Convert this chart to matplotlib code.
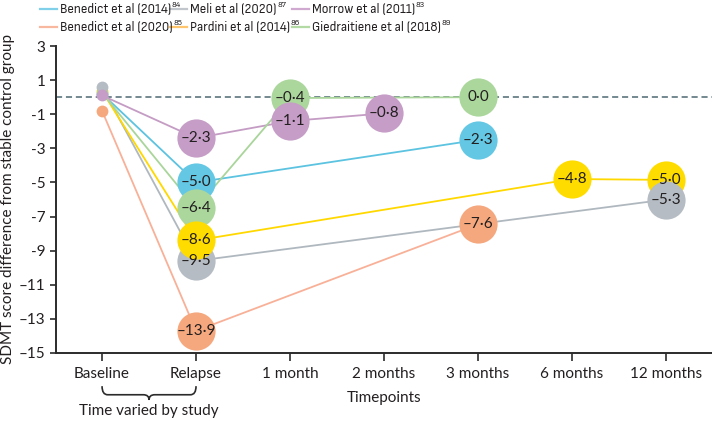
import matplotlib
matplotlib.use("Agg")
import matplotlib.pyplot as plt
from matplotlib.lines import Line2D
from matplotlib.path import Path
from matplotlib.patches import PathPatch
from matplotlib import font_manager as fm
import matplotlib.transforms as mtransforms

plt.rcParams['font.family'] = ['Lato', 'DejaVu Sans']
plt.rcParams['mathtext.fontset'] = 'custom'
plt.rcParams['mathtext.rm'] = 'Lato'
plt.rcParams['mathtext.it'] = 'Lato'

# look for a condensed face for the legend (reference uses a narrow font)
cond_file = None
for f in fm.fontManager.ttflist:
    st = str(f.stretch).lower()
    if (("condensed" in st or "narrow" in f.name.lower() or "condensed" in f.name.lower()
         or "condensed" in f.fname.lower()) and f.weight in (400, "normal", "regular")
            and f.style == "normal"):
        if cond_file is None or "sans" in f.name.lower():
            cond_file = f.fname

timepoints = ["Baseline", "Relapse", "1 month", "2 months", "3 months", "6 months", "12 months"]
ytick_vals = [3, 1, -1, -3, -5, -7, -9, -11, -13, -15]
ytick_labels = ["3", "1", "-1", "-3", "-5", "-7", "-9", "–11", "–13", "–15"]

# timepoint index, plotted position (as drawn in the figure) and printed value
benedict14_x = [0, 1, 4]
benedict14_y = [0.2, -5.0, -2.5]
benedict14_lab = [None, -5.0, -2.3]
benedict20_x = [0, 1, 4]
benedict20_y = [-0.8, -13.7, -7.45]
benedict20_lab = [None, -13.9, -7.6]
meli_x = [0, 1, 6]
meli_y = [0.6, -9.6, -6.0]
meli_lab = [None, -9.5, -5.3]
pardini_x = [0, 1, 5, 6]
pardini_y = [0.35, -8.4, -4.8, -4.85]
pardini_lab = [None, -8.6, -4.8, -5.0]
morrow_x = [0, 1, 2, 3]
morrow_y = [0.1, -2.4, -1.4, -0.95]
morrow_lab = [None, -2.3, -1.1, -0.8]
gied_x = [0, 1, 2, 4]
gied_y = [0.25, -6.5, -0.05, 0.0]
gied_lab = [None, -6.4, -0.4, 0.0]

names = {
    "b14": ("Benedict et al (2014)", "84"),
    "b20": ("Benedict et al (2020)", "85"),
    "meli": ("Meli et al (2020)", "87"),
    "pard": ("Pardini et al (2014)", "86"),
    "morr": ("Morrow et al (2011)", "83"),
    "gied": ("Giedraitiene et al (2018)", "89"),
}

# key, x, y, labels, line color, fill color, legend color, zorder per point
series = [
    ("b14", benedict14_x, benedict14_y, benedict14_lab, "#5cc3e0", "#64c7e3", "#7fd0e8", [3.0, 3.0, 3.0]),
    ("b20", benedict20_x, benedict20_y, benedict20_lab, "#f8b198", "#f5a87d", "#f8b8a0", [3.2, 3.2, 3.2]),
    ("meli", meli_x, meli_y, meli_lab, "#b0b8bf", "#b5bcc3", "#c0c6cc", [3.9, 3.4, 3.9]),
    ("pard", pardini_x, pardini_y, pardini_lab, "#ffd800", "#ffdc00", "#ffc46e", [3.5, 3.8, 3.8, 3.5]),
    ("morr", morrow_x, morrow_y, morrow_lab, "#c49cc4", "#c59dc6", "#cfa9cf", [4.0, 4.0, 4.0, 4.0]),
    ("gied", gied_x, gied_y, gied_lab, "#a9d59b", "#abd79d", "#b3d9a5", [3.6, 3.6, 3.6, 3.6]),
]

fig = plt.figure(figsize=(7.12, 4.21), dpi=100)
ax = fig.add_axes([56/712, 68/421, 1 - 56/712, (352-45)/421])
ax.set_xlim(-0.49, 6.49)
ax.set_ylim(-15, 3)

ax.axhline(0, color="#4d6872", lw=1.1, ls=(0, (4, 2.5)), zorder=1)

for key, xs, ys, labs, lc, fc, legc, zs in series:
    ax.plot(xs, ys, color=lc, lw=1.3, zorder=2)
    for x, y, lab, z in zip(xs, ys, labs, zs):
        if lab is None:
            ax.plot([x], [y], 'o', ms=8.5, color=fc, mec='none', zorder=z)
        else:
            ax.plot([x], [y], 'o', ms=27.5, color=fc, mec='none', zorder=z)
            txt = f"{lab:.1f}".replace("-", "–").replace(".", "·")
            ax.text(x, y, txt, ha='center', va='center', fontsize=11, color="#231f20", zorder=10)

for s in ["top", "right"]:
    ax.spines[s].set_visible(False)
for s in ["left", "bottom"]:
    ax.spines[s].set_color("#2b2b2b")
    ax.spines[s].set_linewidth(1.4)

ax.set_xticks(range(len(timepoints)))
ax.set_xticklabels(timepoints, fontsize=11, color="#231f20")
ax.set_yticks(ytick_vals)
ax.set_yticklabels(ytick_labels, fontsize=11, color="#231f20")
ax.tick_params(axis='x', length=5.8, width=1.2, color="#2b2b2b", pad=4.5)
ax.tick_params(axis='y', length=4.5, width=1.2, color="#2b2b2b", pad=3)

ax.set_ylabel("SDMT score difference from stable control group", fontsize=11, color="#231f20", labelpad=3)
ax.text(0.5, -0.147, "Timepoints", transform=ax.transAxes, ha='center', va='center', fontsize=11, color="#231f20")

# brace under Baseline..Relapse
trans = mtransforms.blended_transform_factory(ax.transData, ax.transAxes)
y0, y1, y2 = -0.108, -0.136, -0.153
x0, x1 = 0.0, 1.0
xm = 0.5
w = 0.06
verts = [(x0, y0), (x0, y1), (x0 + w, y1),
         (xm - w, y1), (xm, y1), (xm, y2),
         (xm, y1), (xm + w, y1),
         (x1 - w, y1), (x1, y1), (x1, y0)]
codes = [Path.MOVETO, Path.CURVE3, Path.CURVE3,
         Path.LINETO, Path.CURVE3, Path.CURVE3,
         Path.CURVE3, Path.CURVE3,
         Path.LINETO, Path.CURVE3, Path.CURVE3]
patch = PathPatch(Path(verts, codes), fill=False, lw=1.2, ec="#2b2b2b", transform=trans, clip_on=False)
ax.add_patch(patch)
ax.text(0.5, -0.19, "Time varied by study", transform=trans, ha='center', va='center', fontsize=11, color="#231f20")

# legend, drawn by hand so that the columns sit where the reference has them
if cond_file is not None:
    leg_fp = fm.FontProperties(fname=cond_file, size=9.6)
    sup_fp = fm.FontProperties(fname=cond_file, size=6.2)
else:
    leg_fp = fm.FontProperties(family="Lato", size=8.5)
    sup_fp = fm.FontProperties(family="Lato", size=5.8)

style = {s[0]: s[6] for s in series}
columns = [(["b14", "b20"], 40), (["meli", "pard"], 170), (["morr", "gied"], 292)]
rows_y = [9, 27]
renderer = fig.canvas.get_renderer()
for keys, xpix in columns:
    for k, ypix in zip(keys, rows_y):
        yf = 1 - ypix / 421
        fig.add_artist(Line2D([xpix / 712, (xpix + 17) / 712], [yf, yf], color=style[k], lw=1.6,
                              transform=fig.transFigure))
        main, sup = names[k]
        t = fig.text((xpix + 20) / 712, yf, main, fontproperties=leg_fp, color="#231f20",
                     ha='left', va='center')
        bb = t.get_window_extent(renderer=renderer)
        fig.text(bb.x1 / 712 + 0.5 / 712, yf + 4 / 421, sup, fontproperties=sup_fp, color="#231f20",
                 ha='left', va='center')

fig.savefig("out.png", dpi=100)
